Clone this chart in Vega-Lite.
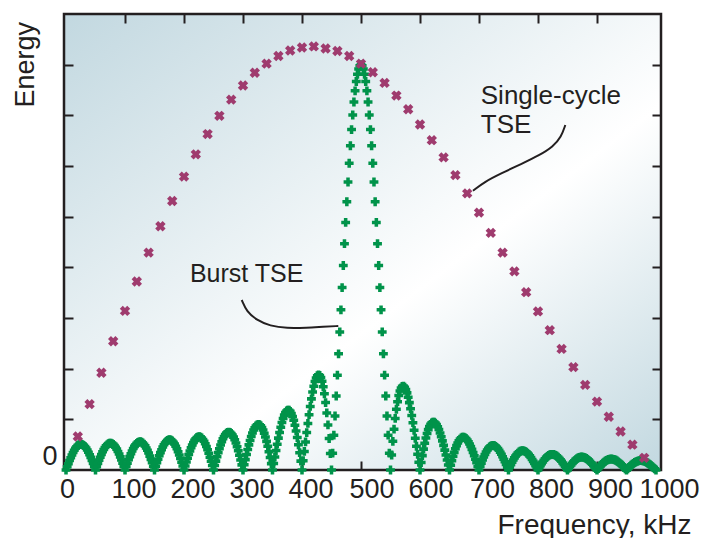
{
"$schema":"https://vega.github.io/schema/vega-lite/v6.json",
"autosize":{"type":"none"},
"padding":{"left":64,"top":14,"right":57,"bottom":68},
"width":597,"height":456,
"background":"white",
"config":{
 "view":{"stroke":"#231f20","strokeWidth":2.5,"fill":{"gradient":"linear","x1":0,"y1":0,"x2":1,"y2":1,"stops":[{"offset":0,"color":"#c2d8e0"},{"offset":0.6,"color":"#ffffff"},{"offset":1,"color":"#c2d8e0"}]}},
 "font":"Liberation Sans",
 "axis":{"grid":false,"domain":false,"tickColor":"#231f20","tickWidth":2,"tickSize":-9,"labelColor":"#231f20","titleColor":"#231f20","labelFont":"Liberation Sans","titleFont":"Liberation Sans","titleFontWeight":"normal"}
},
"datasets":{
"burst":[{"f":0,"e":0},{"f":2,"e":0.063},{"f":4,"e":0.125},{"f":6,"e":0.186},{"f":8,"e":0.243},{"f":10,"e":0.297},{"f":12,"e":0.347},{"f":14,"e":0.391},{"f":16,"e":0.429},{"f":18,"e":0.46},{"f":20,"e":0.484},{"f":22,"e":0.5},{"f":24,"e":0.509},{"f":26,"e":0.51},{"f":28,"e":0.502},{"f":30,"e":0.487},{"f":32,"e":0.464},{"f":34,"e":0.433},{"f":36,"e":0.396},{"f":38,"e":0.352},{"f":40,"e":0.303},{"f":42,"e":0.249},{"f":44,"e":0.19},{"f":46,"e":0.129},{"f":48,"e":0.065},
{"f":50,"e":0},{"f":52,"e":0.065},{"f":54,"e":0.13},{"f":56,"e":0.192},{"f":58,"e":0.252},{"f":60,"e":0.308},{"f":62,"e":0.359},{"f":64,"e":0.404},{"f":66,"e":0.444},{"f":68,"e":0.476},{"f":70,"e":0.502},{"f":72,"e":0.519},{"f":74,"e":0.528},{"f":76,"e":0.529},{"f":78,"e":0.522},{"f":80,"e":0.506},{"f":82,"e":0.482},{"f":84,"e":0.451},{"f":86,"e":0.412},{"f":88,"e":0.367},{"f":90,"e":0.316},{"f":92,"e":0.259},{"f":94,"e":0.199},{"f":96,"e":0.134},{"f":98,"e":0.068},
{"f":100,"e":0},{"f":102,"e":0.068},{"f":104,"e":0.135},{"f":106,"e":0.201},{"f":108,"e":0.264},{"f":110,"e":0.322},{"f":112,"e":0.376},{"f":114,"e":0.424},{"f":116,"e":0.466},{"f":118,"e":0.5},{"f":120,"e":0.527},{"f":122,"e":0.546},{"f":124,"e":0.556},{"f":126,"e":0.557},{"f":128,"e":0.55},{"f":130,"e":0.534},{"f":132,"e":0.509},{"f":134,"e":0.476},{"f":136,"e":0.436},{"f":138,"e":0.388},{"f":140,"e":0.334},{"f":142,"e":0.274},{"f":144,"e":0.21},{"f":146,"e":0.142},{"f":148,"e":0.072},
{"f":150,"e":0},{"f":152,"e":0.072},{"f":154,"e":0.144},{"f":156,"e":0.214},{"f":158,"e":0.281},{"f":160,"e":0.343},{"f":162,"e":0.401},{"f":164,"e":0.453},{"f":166,"e":0.498},{"f":168,"e":0.535},{"f":170,"e":0.564},{"f":172,"e":0.584},{"f":174,"e":0.596},{"f":176,"e":0.598},{"f":178,"e":0.59},{"f":180,"e":0.573},{"f":182,"e":0.547},{"f":184,"e":0.512},{"f":186,"e":0.469},{"f":188,"e":0.418},{"f":190,"e":0.36},{"f":192,"e":0.296},{"f":194,"e":0.227},{"f":196,"e":0.154},{"f":198,"e":0.078},
{"f":200,"e":0},{"f":202,"e":0.079},{"f":204,"e":0.156},{"f":206,"e":0.233},{"f":208,"e":0.306},{"f":210,"e":0.374},{"f":212,"e":0.438},{"f":214,"e":0.494},{"f":216,"e":0.544},{"f":218,"e":0.585},{"f":220,"e":0.618},{"f":222,"e":0.641},{"f":224,"e":0.654},{"f":226,"e":0.657},{"f":228,"e":0.65},{"f":230,"e":0.632},{"f":232,"e":0.604},{"f":234,"e":0.566},{"f":236,"e":0.519},{"f":238,"e":0.463},{"f":240,"e":0.4},{"f":242,"e":0.329},{"f":244,"e":0.253},{"f":246,"e":0.172},{"f":248,"e":0.087},
{"f":250,"e":0},{"f":252,"e":0.088},{"f":254,"e":0.175},{"f":256,"e":0.261},{"f":258,"e":0.343},{"f":260,"e":0.421},{"f":262,"e":0.493},{"f":264,"e":0.558},{"f":266,"e":0.615},{"f":268,"e":0.663},{"f":270,"e":0.701},{"f":272,"e":0.728},{"f":274,"e":0.744},{"f":276,"e":0.748},{"f":278,"e":0.741},{"f":280,"e":0.722},{"f":282,"e":0.691},{"f":284,"e":0.649},{"f":286,"e":0.596},{"f":288,"e":0.533},{"f":290,"e":0.461},{"f":292,"e":0.381},{"f":294,"e":0.293},{"f":296,"e":0.199},{"f":298,"e":0.101},
{"f":300,"e":0},{"f":302,"e":0.103},{"f":304,"e":0.205},{"f":306,"e":0.306},{"f":308,"e":0.403},{"f":310,"e":0.496},{"f":312,"e":0.582},{"f":314,"e":0.66},{"f":316,"e":0.729},{"f":318,"e":0.788},{"f":320,"e":0.835},{"f":322,"e":0.87},{"f":324,"e":0.892},{"f":326,"e":0.899},{"f":328,"e":0.893},{"f":330,"e":0.873},{"f":332,"e":0.838},{"f":334,"e":0.789},{"f":336,"e":0.727},{"f":338,"e":0.652},{"f":340,"e":0.565},{"f":342,"e":0.468},{"f":344,"e":0.361},{"f":346,"e":0.247},{"f":348,"e":0.126},
{"f":350,"e":0},{"f":352,"e":0.128},{"f":354,"e":0.257},{"f":356,"e":0.385},{"f":358,"e":0.51},{"f":360,"e":0.629},{"f":362,"e":0.742},{"f":364,"e":0.845},{"f":366,"e":0.937},{"f":368,"e":1.017},{"f":370,"e":1.083},{"f":372,"e":1.133},{"f":374,"e":1.166},{"f":376,"e":1.182},{"f":378,"e":1.179},{"f":380,"e":1.158},{"f":382,"e":1.117},{"f":384,"e":1.058},{"f":386,"e":0.98},{"f":388,"e":0.884},{"f":390,"e":0.771},{"f":392,"e":0.642},{"f":394,"e":0.498},{"f":396,"e":0.342},{"f":398,"e":0.175},
{"f":400,"e":0},{"f":402,"e":0.182},{"f":404,"e":0.367},{"f":406,"e":0.554},{"f":408,"e":0.739},{"f":410,"e":0.919},{"f":412,"e":1.092},{"f":414,"e":1.255},{"f":416,"e":1.404},{"f":418,"e":1.538},{"f":420,"e":1.653},{"f":422,"e":1.747},{"f":424,"e":1.817},{"f":426,"e":1.862},{"f":428,"e":1.879},{"f":430,"e":1.867},{"f":432,"e":1.824},{"f":434,"e":1.75},{"f":436,"e":1.643},{"f":438,"e":1.503},{"f":440,"e":1.331},{"f":442,"e":1.126},{"f":444,"e":0.889},{"f":446,"e":0.621},{"f":448,"e":0.324},
{"f":450,"e":0},{"f":452,"e":0.332},{"f":454,"e":0.688},{"f":456,"e":1.065},{"f":458,"e":1.461},{"f":460,"e":1.871},{"f":462,"e":2.293},{"f":464,"e":2.725},{"f":466,"e":3.162},{"f":468,"e":3.6},{"f":470,"e":4.036},{"f":472,"e":4.467},{"f":474,"e":4.887},{"f":476,"e":5.294},{"f":478,"e":5.685},{"f":480,"e":6.055},{"f":482,"e":6.4},{"f":484,"e":6.719},{"f":486,"e":7.007},{"f":488,"e":7.263},{"f":490,"e":7.484},{"f":492,"e":7.668},{"f":494,"e":7.811},{"f":496,"e":7.916},{"f":498,"e":7.977},
{"f":500,"e":8.0},{"f":502,"e":7.977},{"f":504,"e":7.916},{"f":506,"e":7.811},{"f":508,"e":7.668},{"f":510,"e":7.484},{"f":512,"e":7.263},{"f":514,"e":7.007},{"f":516,"e":6.719},{"f":518,"e":6.4},{"f":520,"e":6.055},{"f":522,"e":5.685},{"f":524,"e":5.294},{"f":526,"e":4.887},{"f":528,"e":4.467},{"f":530,"e":4.036},{"f":532,"e":3.6},{"f":534,"e":3.162},{"f":536,"e":2.725},{"f":538,"e":2.293},{"f":540,"e":1.871},{"f":542,"e":1.461},{"f":544,"e":1.065},{"f":546,"e":0.688},{"f":548,"e":0.332},
{"f":550,"e":0},{"f":552,"e":0.296},{"f":554,"e":0.566},{"f":556,"e":0.806},{"f":558,"e":1.018},{"f":560,"e":1.199},{"f":562,"e":1.349},{"f":564,"e":1.469},{"f":566,"e":1.559},{"f":568,"e":1.619},{"f":570,"e":1.651},{"f":572,"e":1.656},{"f":574,"e":1.634},{"f":576,"e":1.589},{"f":578,"e":1.522},{"f":580,"e":1.435},{"f":582,"e":1.33},{"f":584,"e":1.21},{"f":586,"e":1.077},{"f":588,"e":0.934},{"f":590,"e":0.783},{"f":592,"e":0.627},{"f":594,"e":0.468},{"f":596,"e":0.309},{"f":598,"e":0.152},
{"f":600,"e":0},{"f":602,"e":0.146},{"f":604,"e":0.284},{"f":606,"e":0.412},{"f":608,"e":0.528},{"f":610,"e":0.632},{"f":612,"e":0.722},{"f":614,"e":0.797},{"f":616,"e":0.857},{"f":618,"e":0.901},{"f":620,"e":0.93},{"f":622,"e":0.944},{"f":624,"e":0.942},{"f":626,"e":0.926},{"f":628,"e":0.896},{"f":630,"e":0.853},{"f":632,"e":0.798},{"f":634,"e":0.732},{"f":636,"e":0.658},{"f":638,"e":0.575},{"f":640,"e":0.486},{"f":642,"e":0.392},{"f":644,"e":0.295},{"f":646,"e":0.196},{"f":648,"e":0.097},
{"f":650,"e":0},{"f":652,"e":0.095},{"f":654,"e":0.185},{"f":656,"e":0.27},{"f":658,"e":0.348},{"f":660,"e":0.419},{"f":662,"e":0.481},{"f":664,"e":0.534},{"f":666,"e":0.578},{"f":668,"e":0.611},{"f":670,"e":0.634},{"f":672,"e":0.646},{"f":674,"e":0.648},{"f":676,"e":0.639},{"f":678,"e":0.621},{"f":680,"e":0.594},{"f":682,"e":0.558},{"f":684,"e":0.514},{"f":686,"e":0.464},{"f":688,"e":0.407},{"f":690,"e":0.345},{"f":692,"e":0.28},{"f":694,"e":0.211},{"f":696,"e":0.141},{"f":698,"e":0.07},
{"f":700,"e":0},{"f":702,"e":0.069},{"f":704,"e":0.135},{"f":706,"e":0.197},{"f":708,"e":0.255},{"f":710,"e":0.308},{"f":712,"e":0.354},{"f":714,"e":0.395},{"f":716,"e":0.428},{"f":718,"e":0.454},{"f":720,"e":0.472},{"f":722,"e":0.482},{"f":724,"e":0.485},{"f":726,"e":0.48},{"f":728,"e":0.467},{"f":730,"e":0.448},{"f":732,"e":0.422},{"f":734,"e":0.39},{"f":736,"e":0.352},{"f":738,"e":0.31},{"f":740,"e":0.263},{"f":742,"e":0.214},{"f":744,"e":0.162},{"f":746,"e":0.108},{"f":748,"e":0.054},
{"f":750,"e":0},{"f":752,"e":0.053},{"f":754,"e":0.104},{"f":756,"e":0.153},{"f":758,"e":0.198},{"f":760,"e":0.239},{"f":762,"e":0.276},{"f":764,"e":0.308},{"f":766,"e":0.334},{"f":768,"e":0.355},{"f":770,"e":0.37},{"f":772,"e":0.379},{"f":774,"e":0.381},{"f":776,"e":0.378},{"f":778,"e":0.369},{"f":780,"e":0.354},{"f":782,"e":0.334},{"f":784,"e":0.309},{"f":786,"e":0.279},{"f":788,"e":0.246},{"f":790,"e":0.209},{"f":792,"e":0.17},{"f":794,"e":0.129},{"f":796,"e":0.086},{"f":798,"e":0.043},
{"f":800,"e":0},{"f":802,"e":0.043},{"f":804,"e":0.084},{"f":806,"e":0.123},{"f":808,"e":0.159},{"f":810,"e":0.193},{"f":812,"e":0.223},{"f":814,"e":0.249},{"f":816,"e":0.27},{"f":818,"e":0.287},{"f":820,"e":0.3},{"f":822,"e":0.307},{"f":824,"e":0.31},{"f":826,"e":0.307},{"f":828,"e":0.3},{"f":830,"e":0.288},{"f":832,"e":0.272},{"f":834,"e":0.252},{"f":836,"e":0.228},{"f":838,"e":0.201},{"f":840,"e":0.172},{"f":842,"e":0.14},{"f":844,"e":0.106},{"f":846,"e":0.071},{"f":848,"e":0.036},
{"f":850,"e":0},{"f":852,"e":0.035},{"f":854,"e":0.069},{"f":856,"e":0.101},{"f":858,"e":0.131},{"f":860,"e":0.159},{"f":862,"e":0.184},{"f":864,"e":0.206},{"f":866,"e":0.224},{"f":868,"e":0.238},{"f":870,"e":0.249},{"f":872,"e":0.255},{"f":874,"e":0.257},{"f":876,"e":0.255},{"f":878,"e":0.25},{"f":880,"e":0.24},{"f":882,"e":0.227},{"f":884,"e":0.21},{"f":886,"e":0.19},{"f":888,"e":0.168},{"f":890,"e":0.143},{"f":892,"e":0.117},{"f":894,"e":0.089},{"f":896,"e":0.059},{"f":898,"e":0.03},
{"f":900,"e":0},{"f":902,"e":0.029},{"f":904,"e":0.058},{"f":906,"e":0.085},{"f":908,"e":0.111},{"f":910,"e":0.134},{"f":912,"e":0.155},{"f":914,"e":0.173},{"f":916,"e":0.189},{"f":918,"e":0.201},{"f":920,"e":0.21},{"f":922,"e":0.215},{"f":924,"e":0.217},{"f":926,"e":0.216},{"f":928,"e":0.211},{"f":930,"e":0.203},{"f":932,"e":0.192},{"f":934,"e":0.178},{"f":936,"e":0.161},{"f":938,"e":0.142},{"f":940,"e":0.121},{"f":942,"e":0.099},{"f":944,"e":0.075},{"f":946,"e":0.05},{"f":948,"e":0.025},
{"f":950,"e":0},{"f":952,"e":0.025},{"f":954,"e":0.049},{"f":956,"e":0.072},{"f":958,"e":0.094},{"f":960,"e":0.114},{"f":962,"e":0.132},{"f":964,"e":0.148},{"f":966,"e":0.161},{"f":968,"e":0.171},{"f":970,"e":0.179},{"f":972,"e":0.184},{"f":974,"e":0.185},{"f":976,"e":0.184},{"f":978,"e":0.18},{"f":980,"e":0.174},{"f":982,"e":0.164},{"f":984,"e":0.152},{"f":986,"e":0.138},{"f":988,"e":0.122},{"f":990,"e":0.104},{"f":992,"e":0.085},{"f":994,"e":0.064},{"f":996,"e":0.043},{"f":998,"e":0.022},{"f":1000,"e":0}],
"single":[{"f":20,"e":0.66},{"f":40,"e":1.3},{"f":60,"e":1.92},{"f":80,"e":2.54},{"f":100,"e":3.14},{"f":120,"e":3.72},{"f":140,"e":4.29},{"f":160,"e":4.81},{"f":180,"e":5.31},{"f":200,"e":5.79},{"f":220,"e":6.23},{"f":240,"e":6.63},{"f":260,"e":6.99},{"f":280,"e":7.31},{"f":300,"e":7.59},{"f":320,"e":7.84},{"f":340,"e":8.02},{"f":360,"e":8.17},{"f":380,"e":8.28},{"f":400,"e":8.34},{"f":420,"e":8.36},{"f":440,"e":8.32},{"f":460,"e":8.27},{"f":480,"e":8.17},{"f":500,"e":8.02},{"f":520,"e":7.85},{"f":540,"e":7.64},{"f":560,"e":7.39},{"f":580,"e":7.12},{"f":600,"e":6.82},{"f":620,"e":6.51},{"f":640,"e":6.17},{"f":660,"e":5.82},{"f":680,"e":5.46},{"f":700,"e":5.08},{"f":720,"e":4.68},{"f":740,"e":4.29},{"f":760,"e":3.92},{"f":780,"e":3.51},{"f":800,"e":3.13},{"f":820,"e":2.76},{"f":840,"e":2.39},{"f":860,"e":2.03},{"f":880,"e":1.68},{"f":900,"e":1.35},{"f":920,"e":1.05},{"f":940,"e":0.76},{"f":960,"e":0.5},{"f":980,"e":0.24}],
"leaders":[{"id":"a","o":0,"f":846.3,"e":6.809},{"id":"a","o":1,"f":839.5,"e":6.578},{"id":"a","o":2,"f":825.4,"e":6.381},{"id":"a","o":3,"f":802.9,"e":6.217},{"id":"a","o":4,"f":771.7,"e":6.04},{"id":"a","o":5,"f":737.8,"e":5.856},{"id":"a","o":6,"f":709.7,"e":5.69},{"id":"a","o":7,"f":689.8,"e":5.512},
{"id":"b","o":0,"f":297.8,"e":3.355},{"id":"b","o":1,"f":306.3,"e":3.124},{"id":"b","o":2,"f":323.2,"e":2.96},{"id":"b","o":3,"f":345.8,"e":2.842},{"id":"b","o":4,"f":374.1,"e":2.797},{"id":"b","o":5,"f":408,"e":2.808},{"id":"b","o":6,"f":436.1,"e":2.828},{"id":"b","o":7,"f":461.5,"e":2.842}]
},
"layer":[
{"data":{"name":"burst"},
 "mark":{"type":"point","shape":"cross","filled":true,"size":78,"color":"#00934a","opacity":1},
 "encoding":{
  "x":{"field":"f","type":"quantitative","scale":{"domain":[-3.4,1008.5],"nice":false,"zero":false},
   "axis":{"orient":"bottom","values":[0,100,200,300,400,500,600,700,800,900,1000],"format":"d","labelFontSize":27,"labelPadding":15,"labelFlush":false,"labelAngle":0,
    "labelOffset":{"condition":[{"test":"datum.value == 0","value":1},{"test":"datum.value < 450","value":8.5},{"test":"datum.value < 650","value":10.5}],"value":13},
    "tickOpacity":{"condition":{"test":"datum.value == 0 || datum.value == 1000","value":0},"value":1},
    "title":"Frequency, kHz","titleFontSize":28,"titleAlign":"right","titleAnchor":null,"titleX":627,"titleY":63,"titleBaseline":"alphabetic"}},
  "y":{"field":"e","type":"quantitative","scale":{"domain":[0,9],"nice":false},
   "axis":{"orient":"left","values":[0,1,2,3,4,5,6,7,8],"labelExpr":"datum.value == 0 ? '0' : ''","labelFontSize":27,"labelPadding":16,"labelOffset":-13.5,"labelBaseline":"middle",
    "tickOpacity":{"condition":{"test":"datum.value == 0","value":0},"value":1},
    "title":"Energy","titleFontSize":27,"titleAngle":270,"titleAlign":"left","titleBaseline":"alphabetic","titleAnchor":null,"titleX":-31,"titleY":93}}
 }},
{"data":{"name":"single"},
 "mark":{"type":"point","shape":"cross","angle":45,"filled":true,"size":110,"color":"#9f3b6e","opacity":1},
 "encoding":{
  "x":{"field":"f","type":"quantitative","scale":{"domain":[-3.4,1008.5],"nice":false,"zero":false},
   "axis":{"orient":"top","values":[100,200,300,400,500,600,700,800,900],"labels":false,"title":null}},
  "y":{"field":"e","type":"quantitative","scale":{"domain":[0,9],"nice":false},
   "axis":{"orient":"right","values":[1,2,3,4,5,6,7,8],"labels":false,"title":null}}
 }},
{"data":{"name":"leaders"},
 "mark":{"type":"line","interpolate":"basis","stroke":"#231f20","strokeWidth":2},
 "encoding":{
  "x":{"field":"f","type":"quantitative","axis":null},
  "y":{"field":"e","type":"quantitative","axis":null},
  "detail":{"field":"id"},
  "order":{"field":"o","type":"quantitative"}
 }},
{"data":{"values":[{}]},
 "mark":{"type":"text","text":["Single-cycle","TSE"],"lineHeight":29,"align":"left","baseline":"alphabetic","fontSize":26,"font":"Liberation Sans","color":"#231f20"},
 "encoding":{"x":{"datum":703,"type":"quantitative","axis":null},"y":{"datum":7.22,"type":"quantitative","axis":null}}},
{"data":{"values":[{}]},
 "mark":{"type":"text","text":"Burst TSE","align":"left","baseline":"alphabetic","fontSize":25,"font":"Liberation Sans","color":"#231f20"},
 "encoding":{"x":{"datum":210,"type":"quantitative","axis":null},"y":{"datum":3.72,"type":"quantitative","axis":null}}}
],
"resolve":{"axis":{"x":"independent","y":"independent"}}
}
